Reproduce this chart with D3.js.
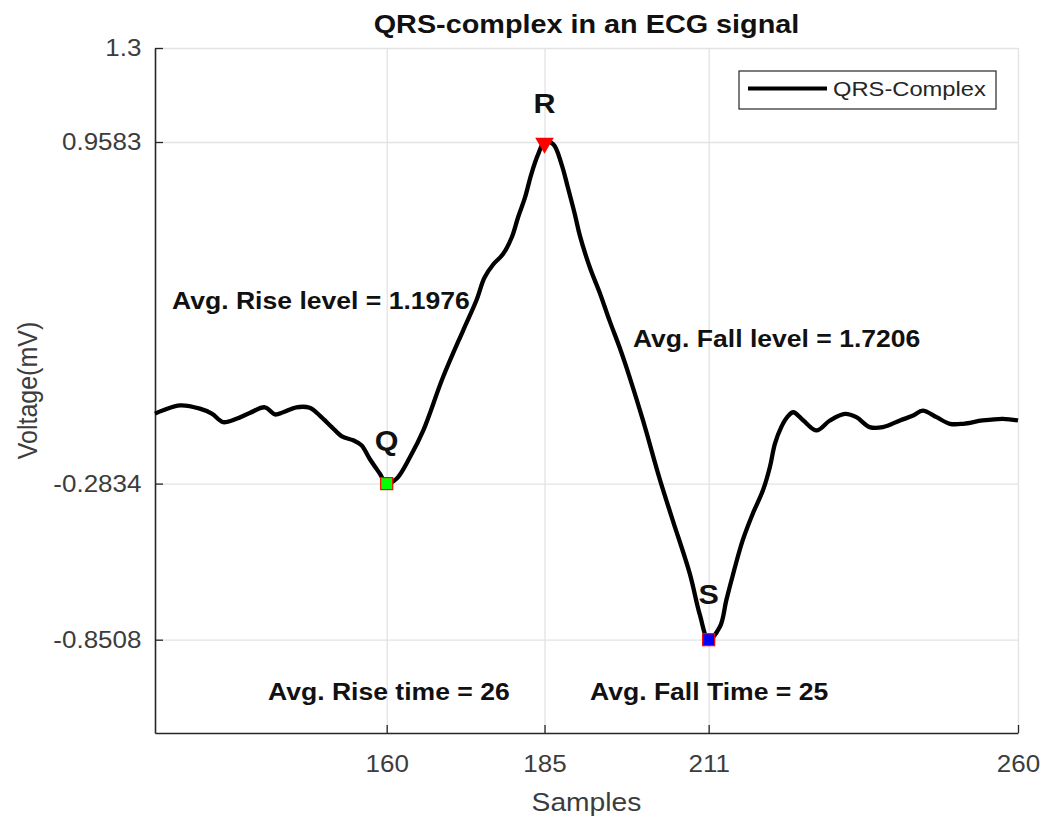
<!DOCTYPE html>
<html>
<head>
<meta charset="utf-8">
<script src="https://cdn.jsdelivr.net/npm/d3@7"></script>
<style>
  body { margin: 0; background: #fff; }
  text { font-family: "Liberation Sans", Arial, sans-serif; }
</style>
</head>
<body>
<div id="chart"></div>
<script>
// Datos (muestra, voltaje)
const samples = [123.3, 124.6, 127.3, 130.4, 132.3, 134.1, 136.2, 138.3, 140.7, 142.3,
    143.6, 145.7, 147.8, 149.4, 151.3, 152.9, 154.7, 156.0, 157.3, 158.9,
    160, 161.6, 163.7, 165.8, 168.9, 172.1, 174.2, 175.5, 176.9, 178.4,
    179.8, 180.8, 181.9, 182.9, 184.0, 185, 186.4, 187.7, 188.7, 189.8,
    190.6, 192.2, 193.8, 195.3, 196.9, 198.5, 200.6, 203.3, 205.3, 208.0,
    209.6, 211, 212.8, 213.8, 214.9, 216.4, 218.0, 219.6, 220.7, 221.5,
    222.5, 223.5, 224.4, 226.0, 228.1, 230.2, 232.6, 234.4, 236.5, 238.6,
    241.3, 243.4, 244.9, 247.1, 249.2, 251.3, 254.4, 257.6, 260];
const voltage = [-0.029, -0.017, 0.001, -0.011, -0.029, -0.060, -0.048, -0.027, -0.006, -0.032,
    -0.024, -0.006, -0.008, -0.036, -0.078, -0.112, -0.126, -0.144, -0.193, -0.247,
    -0.2834, -0.265, -0.187, -0.090, 0.102, 0.273, 0.382, 0.466, 0.514, 0.550,
    0.611, 0.684, 0.756, 0.841, 0.914, 0.9583, 0.950, 0.877, 0.793, 0.696,
    0.618, 0.501, 0.407, 0.309, 0.211, 0.102, -0.054, -0.271, -0.416, -0.610,
    -0.760, -0.8508, -0.803, -0.707, -0.610, -0.489, -0.392, -0.308, -0.223, -0.138,
    -0.078, -0.040, -0.024, -0.054, -0.090, -0.054, -0.030, -0.042, -0.078, -0.078,
    -0.054, -0.036, -0.018, -0.042, -0.066, -0.066, -0.054, -0.048, -0.054];

// Ticks de los ejes
const xTicks = [160, 185, 211, 260];
const yTicks = [-0.8508, -0.2834, 0.9583, 1.3];

// Puntos Q, R, S
const peakNames = ["Q", "R", "S"];
const peakSamples = [160, 185, 211];
const peakValues = [-0.2834, 0.9583, -0.8508];
const peakLabelY = [-0.126, 1.096, -0.688];

// Anotaciones (texto, x, y)
const noteTexts = ["Avg. Rise level = 1.1976", "Avg. Fall level = 1.7206",
    "Avg. Rise time = 26", "Avg. Fall Time = 25"];
const noteX = [126.0, 199.0, 141.2, 192.2];
const noteY = [0.382, 0.244, -1.040, -1.040];

const width = 1044;
const height = 820;
const margin = { top: 48, right: 26, bottom: 87, left: 155 };
const sx = 1.13; // el original está estirado en horizontal

const data = samples.map((s, i) => ({ s, v: voltage[i] }));

const svg = d3.select("#chart").append("svg")
    .attr("width", width)
    .attr("height", height);

const x = d3.scaleLinear()
    .domain([123.3, 260])
    .range([margin.left, width - margin.right]);

const y = d3.scaleLinear()
    .domain([-1.19, 1.3])
    .range([height - margin.bottom, margin.top]);

function addText(px, py, str, size, opts = {}) {
    return svg.append("text")
        .attr("transform", `translate(${px},${py}) scale(${sx},1)`)
        .attr("text-anchor", opts.anchor || "start")
        .attr("dominant-baseline", "central")
        .attr("font-size", size)
        .attr("font-weight", opts.bold ? "bold" : "normal")
        .attr("fill", opts.fill || "#000")
        .text(str);
}

// Rejilla
svg.append("g")
    .attr("transform", `translate(0,${margin.top})`)
    .call(d3.axisBottom(x).tickValues(xTicks).tickSize(height - margin.bottom - margin.top).tickFormat(""))
    .call(g => g.select(".domain").remove())
    .selectAll("line").attr("stroke", "#e3e3e3").attr("stroke-width", 1.3);

svg.append("g")
    .attr("transform", `translate(${margin.left},0)`)
    .call(d3.axisRight(y).tickValues(yTicks).tickSize(width - margin.right - margin.left).tickFormat(""))
    .call(g => g.select(".domain").remove())
    .selectAll("line").attr("stroke", "#e3e3e3").attr("stroke-width", 1.3);

// Ejes
const xAxis = svg.append("g")
    .attr("transform", `translate(0,${height - margin.bottom})`)
    .call(d3.axisBottom(x).tickValues(xTicks).tickSizeInner(-8).tickSizeOuter(0));

const yAxis = svg.append("g")
    .attr("transform", `translate(${margin.left},0)`)
    .call(d3.axisLeft(y).tickValues(yTicks).tickSizeInner(-8).tickSizeOuter(0).tickPadding(12)
        .tickFormat(d => String(d)));

[xAxis, yAxis].forEach(a => {
    a.select(".domain").attr("stroke", "#262626").attr("stroke-width", 1.6);
    a.selectAll(".tick line").attr("stroke", "#262626").attr("stroke-width", 1.3);
    a.selectAll(".tick text")
        .attr("font-size", 23)
        .attr("font-family", "Liberation Sans, Arial, sans-serif")
        .attr("fill", "#3c3c3c")
        .attr("dy", null)
        .attr("dominant-baseline", "central")
        .attr("transform", `scale(${sx},1)`);
});
xAxis.selectAll(".tick text").attr("y", 31);

// Línea ECG
svg.append("path")
    .datum(data)
    .attr("fill", "none")
    .attr("stroke", "#000")
    .attr("stroke-width", 4.3)
    .attr("stroke-linejoin", "round")
    .attr("d", d3.line().x(d => x(d.s)).y(d => y(d.v)).curve(d3.curveCatmullRom.alpha(0.5)));

// Marcadores
const sq = 12;
svg.append("rect")
    .attr("x", x(peakSamples[0]) - sq / 2).attr("y", y(peakValues[0]) - sq / 2)
    .attr("width", sq).attr("height", sq)
    .attr("fill", "#00ff00").attr("stroke", "#ff0000").attr("stroke-width", 1.2);
svg.append("path")
    .attr("d", d3.symbol(d3.symbolTriangle, 150)())
    .attr("transform", `translate(${x(peakSamples[1])},${y(peakValues[1]) + 1}) rotate(180)`)
    .attr("fill", "#ff0000");
svg.append("rect")
    .attr("x", x(peakSamples[2]) - sq / 2).attr("y", y(peakValues[2]) - sq / 2)
    .attr("width", sq).attr("height", sq)
    .attr("fill", "#0000ff").attr("stroke", "#ff0000").attr("stroke-width", 1.2);

// Etiquetas Q R S
peakNames.forEach((n, i) => {
    addText(x(peakSamples[i]), y(peakLabelY[i]), n, 27, { anchor: "middle", bold: true, fill: "#111" });
});

// Anotaciones
noteTexts.forEach((t, i) => {
    addText(x(noteX[i]), y(noteY[i]), t, 23.5, { bold: true, fill: "#111" });
});

// Título y etiquetas
addText((margin.left + width - margin.right) / 2, 24, "QRS-complex in an ECG signal", 25.5, { anchor: "middle", bold: true, fill: "#111" });
addText((margin.left + width - margin.right) / 2, 803, "Samples", 25, { anchor: "middle", fill: "#3c3c3c" });
svg.append("text")
    .attr("transform", `translate(27,${(margin.top + height - margin.bottom) / 2}) rotate(-90) scale(1,${sx})`)
    .attr("text-anchor", "middle")
    .attr("dominant-baseline", "central")
    .attr("font-size", 25)
    .attr("fill", "#3c3c3c")
    .text("Voltage(mV)");

// Leyenda
const legend = svg.append("g").attr("transform", "translate(739,71)");
legend.append("rect")
    .attr("width", 257).attr("height", 38)
    .attr("fill", "#fff").attr("stroke", "#262626").attr("stroke-width", 1.2);
legend.append("line")
    .attr("x1", 9).attr("x2", 88).attr("y1", 17.5).attr("y2", 17.5)
    .attr("stroke", "#000").attr("stroke-width", 4);
legend.append("text")
    .attr("transform", `translate(94,18) scale(${sx},1)`)
    .attr("dominant-baseline", "central")
    .attr("font-size", 21)
    .attr("fill", "#262626")
    .text("QRS-Complex");
</script>
</body>
</html>
